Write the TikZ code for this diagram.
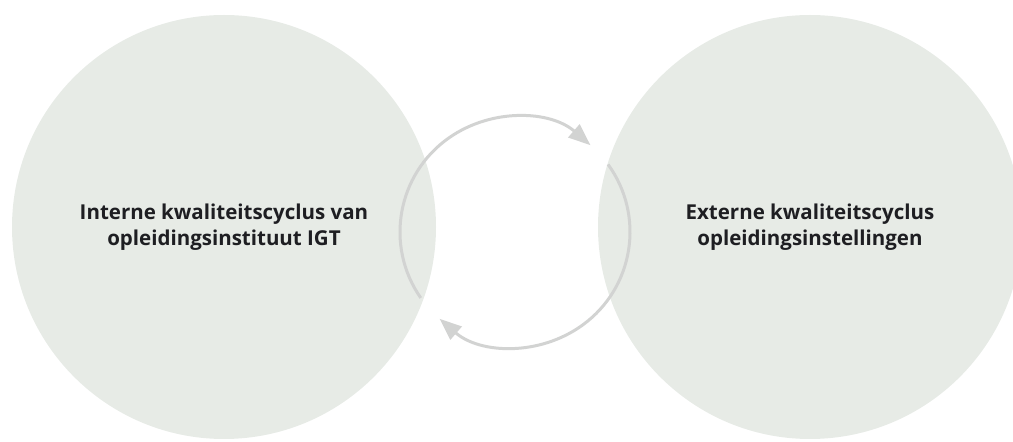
\documentclass[tikz,border=0pt]{standalone}
\usepackage{fontspec}
\setmainfont{Open Sans}
\usetikzlibrary{arrows.meta}
\definecolor{circfill}{HTML}{E7EBE6}
\definecolor{ringcol}{HTML}{D2D3D2}
\definecolor{txt}{HTML}{1E1E22}
\tikzset{
  bigcirc/.style={circle, fill=circfill, minimum size=424pt, inner sep=0pt,
    align=center, text=txt, font=\fontsize{20.5}{26}\selectfont\bfseries},
  cyc/.style={draw=ringcol, line width=3pt,
    -{Triangle[length=22pt,width=17pt]}}
}
\begin{document}
\begin{tikzpicture}[x=1pt,y=1pt]
\useasboundingbox (0,0) rectangle (1013,442);
\node[bigcirc] (intern) at (224,215) {Interne kwaliteitscyclus van\\opleidingsinstituut IGT};
\node[bigcirc] (extern) at (810,215) {Externe kwaliteitscyclus\\opleidingsinstellingen};
\coordinate (ring) at (515,210);
\draw[cyc] ([shift={(215:115)}]ring) arc[start angle=215, end angle=49, radius=115];
\draw[cyc] ([shift={(36:115)}]ring) arc[start angle=36, end angle=-131, radius=115];
\end{tikzpicture}
\end{document}
